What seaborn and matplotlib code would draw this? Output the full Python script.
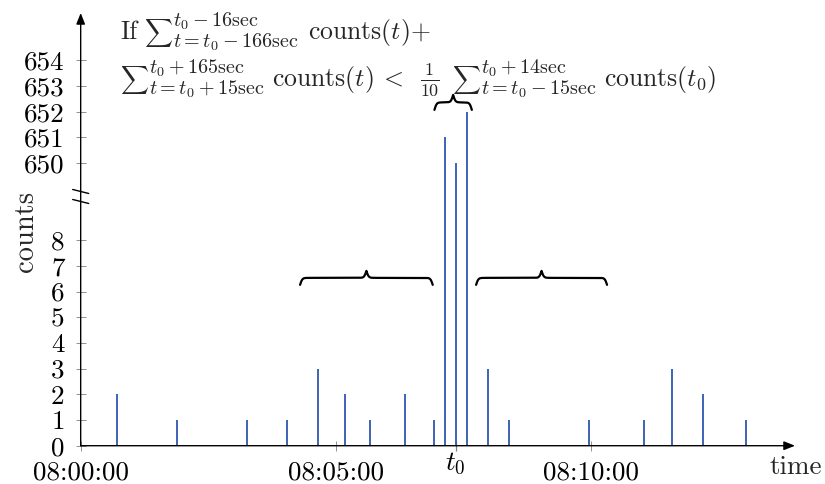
import numpy as np
import pandas as pd
import seaborn as sns
import matplotlib.pyplot as plt
from matplotlib.transforms import IdentityTransform, ScaledTranslation

# datos
tiempos = ["08:00:43", "08:01:53", "08:03:16", "08:04:03", "08:04:39", "08:05:11",
           "08:05:40", "08:06:21", "08:06:56", "08:07:08", "08:07:21", "08:07:34",
           "08:07:59", "08:08:24", "08:09:58", "08:11:03", "08:11:35", "08:12:12",
           "08:13:02"]
cuentas = [2, 1, 1, 1, 3, 2, 1, 2, 1, 651, 650, 652, 3, 1, 1, 1, 3, 2, 1]
t0 = "08:07:21"
inicio = "08:00:00"

yticks_bajos = [0, 1, 2, 3, 4, 5, 6, 7, 8]
yticks_altos = [650, 651, 652, 653, 654]
xticks_tiempos = ["08:00:00", "08:05:00", "08:10:00"]

# rangos de las llaves relativos a t0 (segundos)
llave_izq = [-183, -27]
llave_der = [24, 178]
llave_sup = [-25, 19]

corte = 10      # valores mayores se "pegan" debajo del corte
salto = 639


def seg(t):
    return (pd.to_timedelta(t) - pd.to_timedelta(inicio)).total_seconds()


def comprimir(v):
    v = np.asarray(v, dtype=float)
    return np.where(v > corte, v - salto, v)


df = pd.DataFrame({'tiempo': [seg(t) for t in tiempos], 'counts': cuentas})
df['y'] = comprimir(df['counts'])
t0s = seg(t0)

sns.set_theme(style='white')
plt.rcParams['font.family'] = 'serif'
plt.rcParams['font.serif'] = ['cmr10']
plt.rcParams['mathtext.fontset'] = 'cm'
plt.rcParams['axes.unicode_minus'] = False

fig = plt.figure(figsize=(8.25, 4.84), dpi=100)
ax = fig.add_axes([0.0978, 0.0791, 0.8658, 0.894])
ax.set_xlim(0, 840)
ax.set_ylim(0, 16.84)

azul = '#3f62b5'
ax.vlines(df['tiempo'], 0, df['y'], color=azul, lw=1.4, zorder=2)

for s in ax.spines.values():
    s.set_visible(False)
ax.grid(False)

# ejes con flechas
flecha = dict(arrowstyle='-|>,head_length=0.55,head_width=0.22', lw=1.0,
              color='black', shrinkA=0, shrinkB=0)
ax.annotate('', xy=(1, 0), xytext=(0, 0), xycoords='axes fraction', arrowprops=flecha, zorder=3)
ax.annotate('', xy=(0, 1), xytext=(0, 0), xycoords='axes fraction', arrowprops=flecha, zorder=3)

# ticks
xt = [seg(t) for t in xticks_tiempos[:2]] + [t0s] + [seg(xticks_tiempos[2])]
ax.set_xticks(xt)
ax.set_xticklabels(xticks_tiempos[:2] + ['$t_0$'] + xticks_tiempos[2:])
yt = list(yticks_bajos) + list(comprimir(yticks_altos))
ax.set_yticks(yt)
ax.set_yticklabels([str(v) for v in yticks_bajos + yticks_altos])
ax.tick_params(axis='both', direction='inout', length=7, width=0.6, color='gray',
               labelsize=19.5, labelcolor='black', bottom=True, left=True)
ax.tick_params(axis='x', pad=7)
ax.tick_params(axis='y', pad=8)
for tk in ax.xaxis.get_major_ticks():
    if tk.get_loc() == t0s:
        tk.tick1line.set_color('black')
        tk.tick1line.set_markeredgewidth(0.9)
        tk.label1.set_transform(tk.label1.get_transform() + ScaledTranslation(0, 10 / 100, fig.dpi_scale_trans))

# marca de corte en el eje y
ypb = ax.transData.transform((0, 9.7))[1]
x_eje = ax.transData.transform((0, 0))[0]
for dy in (5, -5):
    pts = ax.transData.inverted().transform([(x_eje - 8, ypb + dy + 2), (x_eje + 8, ypb + dy - 2)])
    ax.plot(pts[:, 0], pts[:, 1], color='black', lw=1.0, clip_on=False, zorder=4)


# llaves
def llave(x0, x1, ybase, alto_px=14):
    # se dibuja en pixeles y se pasa a datos
    p0 = ax.transData.transform((x0, ybase))
    p1 = ax.transData.transform((x1, ybase))
    mitad = (p1[0] - p0[0]) / 2
    k = 0.9
    u = np.linspace(0, mitad, 200)
    h = 1 / (1 + np.exp(-k * (u - u[0]))) + 1 / (1 + np.exp(-k * (u - u[-1])))
    h = (h - h[0]) / (h[-1] - h[0])
    xs = np.concatenate([p0[0] + u, p0[0] + mitad + (mitad - u[::-1])])
    ys = np.concatenate([h, h[::-1]]) * alto_px + p0[1]
    pts = ax.transData.inverted().transform(np.column_stack([xs, ys]))
    ax.plot(pts[:, 0], pts[:, 1], color='black', lw=1.6, clip_on=False, zorder=4)


llave(t0s + llave_izq[0], t0s + llave_izq[1], 6.26)
llave(t0s + llave_der[0], t0s + llave_der[1], 6.26)
llave(t0s + llave_sup[0], t0s + llave_sup[1], 13.07, alto_px=15)

# textos
fig.text(26 / 825, 1 - 231 / 484, 'counts', rotation=90, ha='center', va='center', size=20.5)
fig.text(796 / 825, 1 - 467 / 484, 'time', ha='center', va='center', size=19.5)

# formula armada por piezas (sumatorio en estilo de texto)
H = 484
rend = fig.canvas.get_renderer()
TAM = 18.5
TAM_S = 14.5


def pieza(x, y, s, size):
    t = fig.text(x, H - y, s, size=size, ha='left', va='baseline', transform=IdentityTransform())
    return t.get_window_extent(rend).width


def sumatorio(x, base, sub, sup):
    w = pieza(x, base, r'$\sum$', 14)
    xs = x + w
    w1 = pieza(xs, base - 12.5, sup, TAM_S)
    w2 = pieza(xs, base + 8.5, sub, TAM_S)
    return xs + max(w1, w2)


b1 = 39
x = 120
x += pieza(x, b1, 'If', TAM) + 7
x = sumatorio(x, b1, r'$t{=}t_0-166\mathrm{sec}$', r'$t_0-16\mathrm{sec}$') + 9
pieza(x, b1, r'counts$(t){+}$', TAM)

b2 = 86
x = 120
x = sumatorio(x, b2, r'$t{=}t_0+15\mathrm{sec}$', r'$t_0+165\mathrm{sec}$') + 7
x += pieza(x, b2, r'counts$(t)$', TAM) + 6
x += pieza(x, b2, r'$<$', TAM) + 16
x += pieza(x, b2, r'$\frac{1}{10}$', TAM) + 12
x = sumatorio(x, b2, r'$t{=}t_0-15\mathrm{sec}$', r'$t_0+14\mathrm{sec}$') + 8
pieza(x, b2, r'counts$(t_0)$', TAM)

fig.savefig('out.png', dpi=100)
